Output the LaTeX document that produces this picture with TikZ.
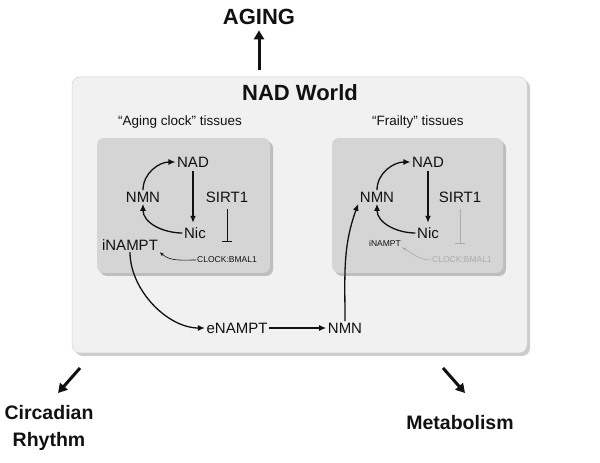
\documentclass[tikz,border=0pt]{standalone}
\usepackage{fontspec}
\setmainfont{Liberation Sans}
\usetikzlibrary{arrows.meta,positioning,shadows,calc}
\definecolor{worldgray}{HTML}{F1F1F1}
\definecolor{tissuegray}{HTML}{D5D5D5}
\definecolor{fadegray}{HTML}{ABABAB}
\definecolor{ink}{HTML}{111111}
\tikzset{
  world/.style={
    rounded corners=8pt,draw=gray!35,fill=worldgray,line width=.5pt,
    minimum width=455pt,minimum height=276pt,
    drop shadow={shadow xshift=3pt,shadow yshift=-3pt,fill=black!40,opacity=.5}
  },
  tissue/.style={
    rounded corners=7pt,draw=none,fill=tissuegray,
    drop shadow={shadow xshift=3pt,shadow yshift=-3pt,fill=black!45,opacity=.5}
  },
  headline/.style={font=\bfseries\fontsize{22}{26}\selectfont,text=ink},
  outcome/.style={font=\bfseries\fontsize{19.5}{27}\selectfont,text=ink,align=center},
  tissuelbl/.style={font=\fontsize{13.5}{16}\selectfont,text=ink},
  mol/.style={font=\fontsize{15}{18}\selectfont,text=ink,inner sep=1.5pt},
  tiny/.style={font=\fontsize{8.5}{10}\selectfont,text=ink,inner sep=1pt},
  faded/.style={text=fadegray},
  flow/.style={-{Latex[length=7pt,width=6pt]},draw=ink,line width=1.3pt},
  thinflow/.style={-{Latex[length=4pt,width=3pt]},draw=ink,line width=.6pt},
  inhib/.style={-{Bar[width=10pt]},draw=ink,line width=.7pt},
  bigarrow/.style={-{Triangle[length=9pt,width=10pt]},draw=ink,line width=3pt}
}

\begin{document}
\begin{tikzpicture}[x=1pt,y=1pt]
\useasboundingbox (0,0) rectangle (600,463);

% outer world and the two tissue groups
\node[world] (world) at (299.5,248) {};
\node[headline] (nadworld) at (300,370) {NAD World};
\node[tissuelbl] (clocklbl) at (180,341) {“Aging clock” tissues};
\node[tissuelbl] (fraillbl) at (418,341) {“Frailty” tissues};
\node[tissue,minimum width=173pt,minimum height=135pt] (clockbox) at (183.5,257.5) {};
\node[tissue,minimum width=171pt,minimum height=135pt] (frailbox) at (417.5,257.5) {};

% aging clock tissues
\node[mol] (nadL) at (193,301) {NAD};
\node[mol] (nmnL) at (143,266) {NMN};
\node[mol] (sirtL) at (227,266) {SIRT1};
\node[mol] (nicL) at (195,230) {Nic};
\node[mol] (inamptL) at (130,218) {iNAMPT};
\node[tiny] (bmalL) at (227,203) {CLOCK:BMAL1};
\coordinate (blockL) at (227,221);

% frailty tissues
\node[mol] (nadR) at (428,301) {NAD};
\node[mol] (nmnR) at (377,266) {NMN};
\node[mol] (sirtR) at (460,266) {SIRT1};
\node[mol] (nicR) at (428,230) {Nic};
\node[tiny] (inamptR) at (385,220) {iNAMPT};
\node[tiny,faded] (bmalR) at (462,203) {CLOCK:BMAL1};
\coordinate (blockR) at (460,219);

% systemic part
\node[mol] (enampt) at (237,135) {eNAMPT};
\node[mol] (nmnB) at (345,135) {NMN};

% outcomes
\node[headline] (aging) at (259,446) {AGING};
\node[outcome] (circ) at (49,35) {Circadian\\Rhythm};
\node[outcome] (metab) at (460,40) {Metabolism};
\coordinate (cr0) at (80,95);
\coordinate (cr1) at (58,70);
\coordinate (me0) at (443,95);
\coordinate (me1) at (465,70);

\draw[flow] (nmnL.north) to[out=90,in=180] (nadL.west);
\draw[flow,shorten <=2pt,shorten >=3pt] (nadL.south) -- (nadL.south |- nicL.north);
\draw[flow] (nicL.west) to[out=180,in=-90] (nmnL.south);
\draw[inhib,shorten <=5pt] (sirtL.south) -- (blockL);
\draw[thinflow] (bmalL.west) to[out=180,in=-40] (inamptL.south east);

\draw[flow] (nmnR.north) to[out=90,in=180] (nadR.west);
\draw[flow,shorten <=2pt,shorten >=3pt] (nadR.south) -- (nicR.north);
\draw[flow] (nicR.west) to[out=180,in=-90] (nmnR.south);
\draw[inhib,draw=fadegray,line width=.5pt,shorten <=5pt] (sirtR.south) -- (blockR);
\draw[thinflow,draw=fadegray] (bmalR.west) to[out=180,in=-30] (inamptR.south east);

\draw[flow] (inamptL.south) to[out=-90,in=180,looseness=.9] (enampt.west);
\draw[flow] (enampt) -- (nmnB);
\draw[flow] (nmnB.north) to[out=90,in=250] (nmnR.south west);

\draw[bigarrow,shorten <=7pt,shorten >=2pt] (aging.south |- world.north) -- (aging.south);
\draw[bigarrow] (cr0) -- (cr1);
\draw[bigarrow] (me0) -- (me1);
\end{tikzpicture}
\end{document}
